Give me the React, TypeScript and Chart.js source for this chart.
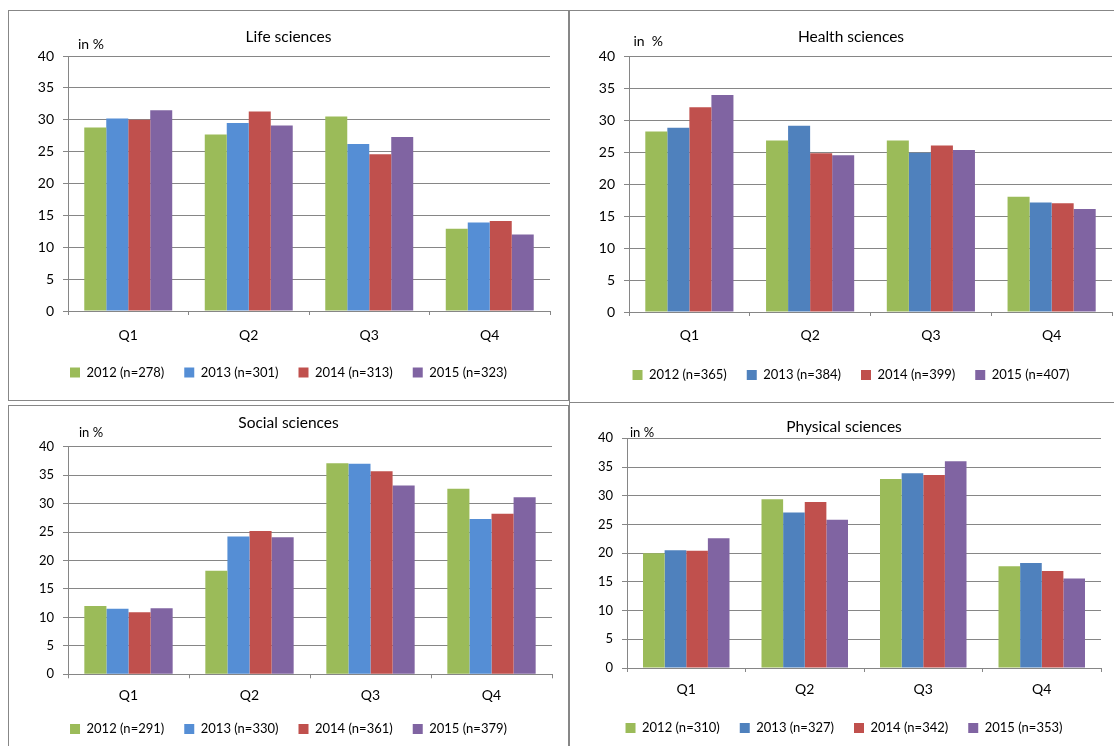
import React, { useEffect, useRef } from 'react';
import { Chart, registerables } from 'chart.js';

Chart.register(...registerables);

const FONT = 'Lato, "Open Sans", "Noto Sans", sans-serif';
Chart.defaults.font.family = FONT;
Chart.defaults.color = '#000';

// ---------- data ----------
const categories = ['Q1', 'Q2', 'Q3', 'Q4'];
const years = ['2012', '2013', '2014', '2015'];

const lifeN = [278, 301, 313, 323];
const life2012 = [28.8, 27.7, 30.5, 12.9];
const life2013 = [30.2, 29.5, 26.2, 13.9];
const life2014 = [30.0, 31.3, 24.6, 14.1];
const life2015 = [31.5, 29.1, 27.3, 12.0];

const healthN = [365, 384, 399, 407];
const health2012 = [28.2, 26.8, 26.8, 18.0];
const health2013 = [28.8, 29.1, 24.9, 17.1];
const health2014 = [32.0, 24.8, 26.0, 17.0];
const health2015 = [33.9, 24.5, 25.3, 16.1];

const socialN = [291, 330, 361, 379];
const social2012 = [12.0, 18.2, 37.1, 32.6];
const social2013 = [11.5, 24.2, 37.0, 27.3];
const social2014 = [10.9, 25.2, 35.7, 28.2];
const social2015 = [11.6, 24.1, 33.2, 31.1];

const physN = [310, 327, 342, 353];
const phys2012 = [20.0, 29.4, 32.9, 17.7];
const phys2013 = [20.5, 27.1, 33.9, 18.3];
const phys2014 = [20.4, 28.9, 33.6, 16.9];
const phys2015 = [22.6, 25.8, 36.0, 15.6];

const yTicksMin = 0;
const yTicksMax = 40;
const yTickStep = 5;

// ---------- styles ----------
const GREEN = '#9BBB59';
const BLUE_LIGHT = '#558ED5';
const BLUE_DARK = '#4F81BD';
const RED = '#C0504D';
const PURPLE = '#8064A2';
const GRID = '#868686';

type Spec = {
  title: string;
  unit: string;
  n: number[];
  series: number[][];
  blue: string;
  left: number;
  top: number;
  W: number;
  H: number;
  padL: number;
  padR: number;
  yW: number;
  titleTop: number;
  titleBottom: number;
  xH: number;
  xPad: number;
  padB: number;
  unitDx: number;
  unitDy: number;
  tickSize: number;
};

const panels: Spec[] = [
  {
    title: 'Life sciences', unit: 'in %', n: lifeN,
    series: [life2012, life2013, life2014, life2015], blue: BLUE_LIGHT,
    left: 8, top: 10, W: 561, H: 391,
    padL: 18, padR: 18, yW: 41, titleTop: 16.7, titleBottom: 9.7,
    xH: 35, xPad: 11.6, padB: 11, unitDx: 10, unitDy: -12, tickSize: 14,
  },
  {
    title: 'Health sciences', unit: 'in  %', n: healthN,
    series: [health2012, health2013, health2014, health2015], blue: BLUE_DARK,
    left: 569, top: 10, W: 564, H: 393,
    padL: 20, padR: 20, yW: 39, titleTop: 16.7, titleBottom: 9.7,
    xH: 36.5, xPad: 10.6, padB: 10.5, unitDx: 4.5, unitDy: -15, tickSize: 14,
  },
  {
    title: 'Social sciences', unit: 'in %', n: socialN,
    series: [social2012, social2013, social2014, social2015], blue: BLUE_LIGHT,
    left: 8, top: 405, W: 561, H: 350,
    padL: 16, padR: 16, yW: 43, titleTop: 7.7, titleBottom: 14.4,
    xH: 28.2, xPad: 8.9, padB: 8.5, unitDx: 11, unitDy: -13.7, tickSize: 13,
  },
  {
    title: 'Physical sciences', unit: 'in %', n: physN,
    series: [phys2012, phys2013, phys2014, phys2015], blue: BLUE_DARK,
    left: 569, top: 402, W: 550, H: 350,
    padL: 17, padR: 17, yW: 40, titleTop: 14.7, titleBottom: 2.0,
    xH: 33.5, xPad: 9.2, padB: 6.5, unitDx: 3, unitDy: -5.3, tickSize: 13,
  },
];

const unitPlugin = {
  id: 'unitLabel',
  afterDraw(chart: any, _args: any, opts: any) {
    const { ctx, chartArea } = chart;
    ctx.save();
    ctx.font = `${opts.size}px ${FONT}`;
    ctx.fillStyle = '#000';
    ctx.textAlign = 'left';
    ctx.textBaseline = 'middle';
    ctx.fillText(opts.text, chartArea.left + opts.dx, chartArea.top + opts.dy);
    ctx.restore();
  },
};

function Panel({ spec }: { spec: Spec }) {
  const ref = useRef<HTMLCanvasElement>(null);
  const Wc = spec.W - 2;
  const Hc = spec.H - 2;

  useEffect(() => {
    const colors = [GREEN, spec.blue, RED, PURPLE];
    const chart = new Chart(ref.current as HTMLCanvasElement, {
      type: 'bar',
      data: {
        labels: categories,
        datasets: spec.series.map((vals, i) => ({
          label: `${years[i]} (n=${spec.n[i]})`,
          data: vals,
          backgroundColor: colors[i],
          borderWidth: 0,
          categoryPercentage: 0.73,
          barPercentage: 1.0,
        })),
      },
      options: {
        responsive: false,
        animation: false,
        events: [],
        layout: {
          autoPadding: false,
          padding: { top: 0, left: spec.padL, right: spec.padR, bottom: spec.padB },
        },
        scales: {
          x: {
            grid: {
              drawOnChartArea: false,
              drawTicks: true,
              tickLength: 4,
              color: GRID,
              offset: true,
            },
            border: { color: GRID, width: 1 },
            ticks: { font: { size: 14 }, padding: spec.xPad, color: '#000' },
            afterFit: (s: any) => { s.height = spec.xH; },
          },
          y: {
            min: yTicksMin,
            max: yTicksMax,
            ticks: { stepSize: yTickStep, font: { size: spec.tickSize }, padding: 9, color: '#000' },
            grid: { color: GRID, lineWidth: 1, tickLength: 5 },
            border: { color: GRID, width: 1 },
            afterFit: (s: any) => { s.width = spec.yW; },
          },
        },
        plugins: {
          title: {
            display: true,
            text: spec.title,
            color: '#000',
            font: { size: 15.5, weight: 'normal' as any, family: FONT },
            padding: { top: spec.titleTop, bottom: spec.titleBottom },
          },
          legend: {
            display: true,
            position: 'bottom',
            labels: {
              boxWidth: 10,
              boxHeight: 10,
              padding: 20,
              color: '#000',
              font: { size: 13 },
            },
          },
          tooltip: { enabled: false },
          unitLabel: { text: spec.unit, dx: spec.unitDx, dy: spec.unitDy, size: spec.tickSize },
        } as any,
      },
      plugins: [unitPlugin],
    });
    return () => chart.destroy();
  }, []);

  return (
    <div
      style={{
        position: 'absolute',
        left: spec.left,
        top: spec.top,
        width: spec.W,
        height: spec.H,
        border: '1px solid #878787',
        boxSizing: 'border-box',
        background: '#fff',
      }}
    >
      <canvas ref={ref} width={Wc} height={Hc} style={{ display: 'block', width: Wc, height: Hc }} />
    </div>
  );
}

export default function App() {
  return (
    <div
      style={{
        position: 'fixed',
        left: 0,
        top: 0,
        width: 1114,
        height: 746,
        overflow: 'hidden',
        background: '#fff',
      }}
    >
      {panels.map((p) => (
        <Panel key={p.title} spec={p} />
      ))}
    </div>
  );
}
